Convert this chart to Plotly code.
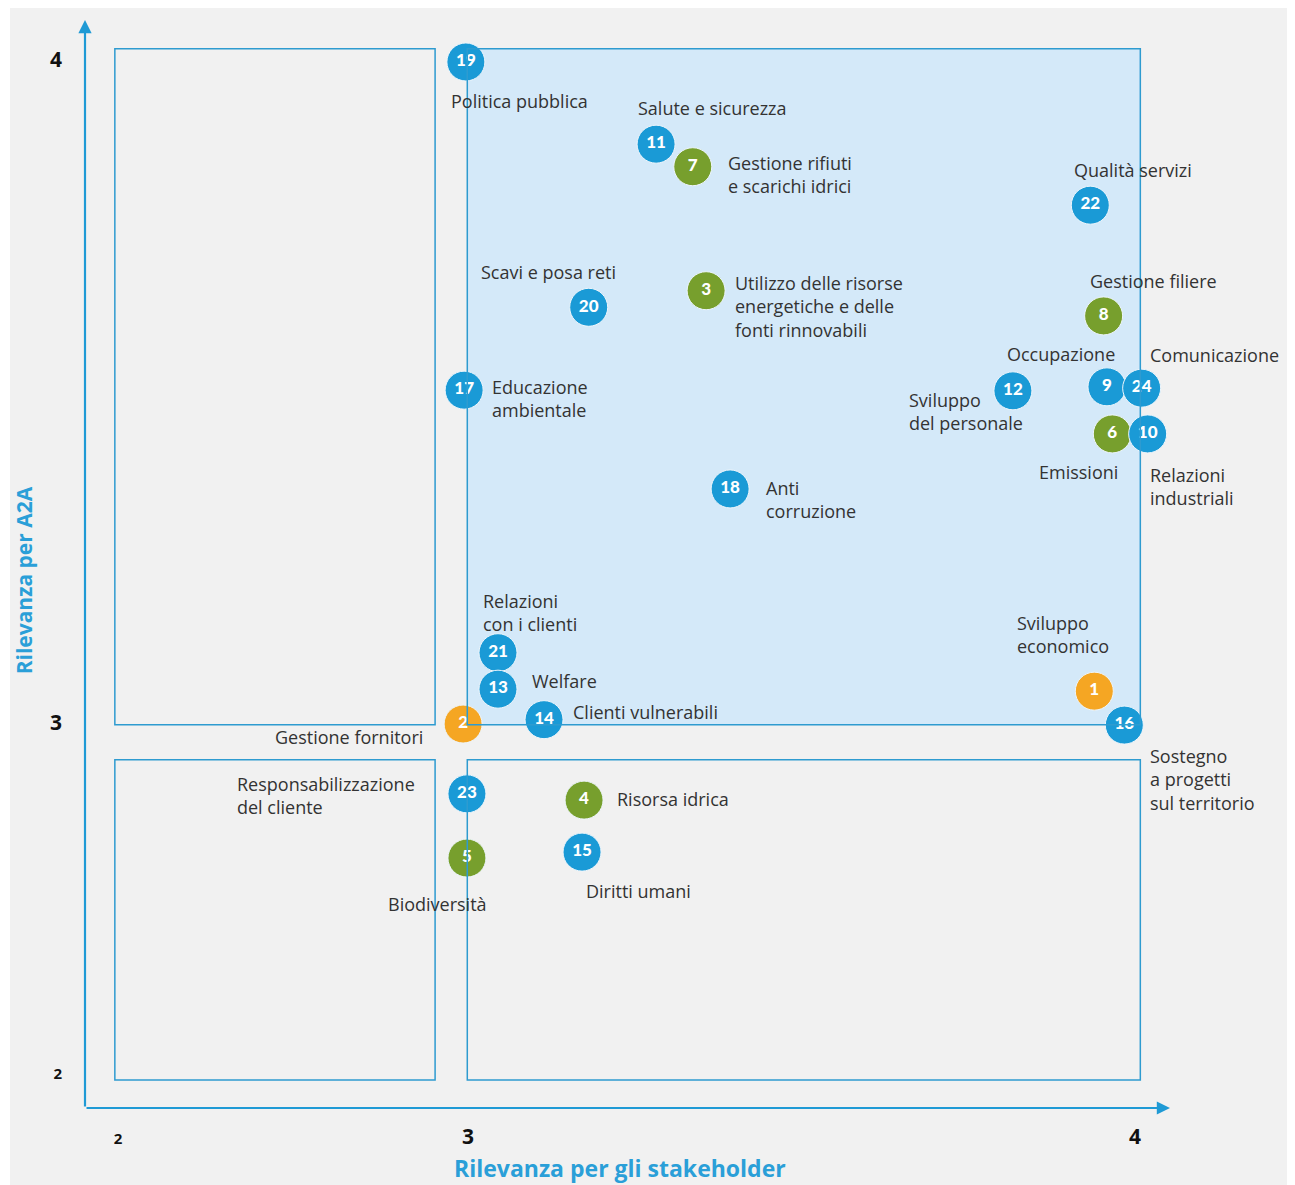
import plotly.graph_objects as go

# materiality matrix: relevance for stakeholders (x) vs relevance for A2A (y)
# listed in drawing order (later points sit on top of earlier ones)
ids = [1, 2, 3, 4, 5, 6, 8, 9, 10, 11, 7, 12, 14, 15, 16, 17, 18, 19, 20, 21, 13, 22, 23, 24]
topics = [
    "Sviluppo<br>economico", "Gestione fornitori",
    "Utilizzo delle risorse<br>energetiche e delle<br>fonti rinnovabili",
    "Risorsa idrica", "Biodiversità", "Emissioni", "Gestione filiere", "Occupazione",
    "Relazioni<br>industriali", "Salute e sicurezza", "Gestione rifiuti<br>e scarichi idrici",
    "Sviluppo<br>del personale", "Clienti vulnerabili", "Diritti umani",
    "Sostegno<br>a progetti<br>sul territorio", "Educazione<br>ambientale", "Anti<br>corruzione",
    "Politica pubblica", "Scavi e posa reti", "Relazioni<br>con i clienti", "Welfare",
    "Qualità servizi", "Responsabilizzazione<br>del cliente", "Comunicazione",
]
area = ["eco", "eco", "env", "env", "env", "env", "env", "soc", "soc", "soc", "env", "soc",
        "soc", "soc", "soc", "soc", "soc", "soc", "soc", "soc", "soc", "soc", "soc", "soc"]
stakeholder = [3.939, 2.986, 3.357, 3.174, 2.997, 3.966, 3.953, 3.958, 4.019, 3.282, 3.337, 3.817,
               3.114, 3.171, 3.984, 2.989, 3.393, 2.994, 3.181, 3.045, 3.045, 3.933, 2.997, 4.010]
a2a = [3.048, 2.997, 3.652, 2.779, 2.613, 3.436, 3.614, 3.507, 3.436, 3.873, 3.839, 3.501,
       3.005, 2.630, 2.994, 3.502, 3.353, 3.997, 3.627, 3.106, 3.051, 3.781, 2.797, 3.505]
tick_vals = [2, 3, 4]

area_colors = {"eco": "#f5a623", "env": "#779f2d", "soc": "#1a9ad6"}

# label placement relative to each bubble: (xshift, yshift, xanchor)
label_pos = [
    (-79, 57, "left"), (-38, -13, "right"), (27, -16, "left"), (31, 1, "left"),
    (-29, -46, "center"), (-34, -38, "center"), (-16, 35, "left"), (-102, 33, "left"),
    (0, -53, "left"), (-20, 36, "left"), (33, -8, "left"), (-106, -21, "left"),
    (27, 8, "left"), (2, -39, "left"), (24, -54, "left"), (26, -8, "left"),
    (34, -11, "left"), (-17, -39, "left"), (-110, 35, "left"), (-17, 40, "left"),
    (32, 8, "left"), (-18, 35, "left"), (-232, -2, "left"), (6, 33, "left"),
]

# the matrix stretches the 3-4 band: the 2-3 band is drawn about half as wide
LOW_X = 350 / 667
LOW_Y = 349 / 663


def sx(v):
    return v - 3 if v >= 3 else (v - 3) * LOW_X


def sy(v):
    return v - 3 if v >= 3 else (v - 3) * LOW_Y


BLUE = "#1f9ad5"
XR = [-0.5742, 1.0525]
YR = [-0.5807, 1.0603]

fig = go.Figure()

# quadrant boxes
quad_x = [(1.991, 2.906), (2.998, 4.008)]
quad_y = [(1.977, 2.895), (2.995, 4.017)]
fig.add_shape(type="rect", x0=sx(quad_x[1][0]), x1=sx(quad_x[1][1]),
              y0=sy(quad_y[1][0]), y1=sy(quad_y[1][1]),
              fillcolor="#d4e9f9", line_width=0, layer="below")
for qx in quad_x:
    for qy in quad_y:
        fig.add_shape(type="rect", x0=sx(qx[0]), x1=sx(qx[1]), y0=sy(qy[0]), y1=sy(qy[1]),
                      line=dict(color="#2e9bd0", width=1.5), layer="above")

# paper-like background
fig.add_shape(type="rect", xref="paper", yref="paper", x0=-0.0691, x1=1.1106, y0=-0.08, y1=1.011,
              fillcolor="#f1f1f1", line_width=0, layer="below")

fig.add_trace(go.Scatter(
    x=[sx(v) for v in stakeholder], y=[sy(v) for v in a2a],
    mode="markers+text", text=[str(i) for i in ids], textposition="middle center",
    textfont=dict(family="Lato", size=17, color="white", weight=900),
    marker=dict(size=38, color=[area_colors[a] for a in area], line=dict(color="#eef6fc", width=1)),
    cliponaxis=False, hoverinfo="text", hovertext=[t.replace("<br>", " ") for t in topics],
    showlegend=False,
))

for t, xv, yv, (dx, dy, anc) in zip(topics, stakeholder, a2a, label_pos):
    fig.add_annotation(x=sx(xv), y=sy(yv), text=t, showarrow=False, xshift=dx, yshift=dy,
                       xanchor=anc, yanchor="middle", align="left" if anc == "left" else anc,
                       font=dict(family="Open Sans", size=18, color="#333333"))

# axis arrows
fig.add_annotation(x=XR[1], y=YR[0], ax=XR[0], ay=YR[0], axref="x", ayref="y", text="",
                   showarrow=True, arrowhead=2, arrowsize=1.2, arrowwidth=2.2, arrowcolor=BLUE)
fig.add_annotation(x=XR[0], y=YR[1], ax=XR[0], ay=YR[0], axref="x", ayref="y", text="",
                   showarrow=True, arrowhead=2, arrowsize=1.2, arrowwidth=2.2, arrowcolor=BLUE)

# axis titles
fig.add_annotation(xref="paper", yref="paper", x=0.493, y=-0.055, text="<b>Rilevanza per gli stakeholder</b>",
                   showarrow=False, yanchor="middle", font=dict(family="Open Sans", size=23, color="#2a9fd8"))
fig.add_annotation(xref="paper", yref="paper", x=-0.0562, y=0.485, text="<b>Rilevanza per A2A</b>",
                   textangle=-90, showarrow=False, xanchor="center", yanchor="middle",
                   font=dict(family="Open Sans", size=21, color="#2a9fd8"))

tick_text = ["<b><span style='font-size:15px'>%d</span></b>" % v if v == 2 else "<b>%d</b>" % v
             for v in tick_vals]

fig.update_xaxes(range=XR, tickvals=[sx(v) for v in tick_vals], ticktext=tick_text,
                 showgrid=False, zeroline=False, showline=False, ticks="", ticklabelstandoff=14,
                 tickfont=dict(family="Open Sans", size=21, color="#111111"))
fig.update_yaxes(range=YR, tickvals=[sy(v) for v in tick_vals], ticktext=tick_text,
                 showgrid=False, zeroline=False, showline=False, ticks="", ticklabelstandoff=22,
                 tickfont=dict(family="Open Sans", size=21, color="#111111"))

# the page adds an 8px body margin, so the figure is 8px smaller than the window
fig.update_layout(
    width=1287, height=1177,
    margin=dict(l=77, r=125, t=12, b=77),
    paper_bgcolor="white", plot_bgcolor="rgba(0,0,0,0)",
    font=dict(family="Lato"),
)

fig.write_html("out.html")
